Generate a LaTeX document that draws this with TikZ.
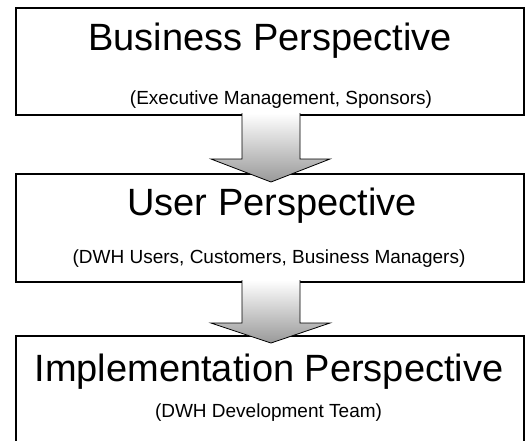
\documentclass[tikz,border=0pt]{standalone}
\usepackage{fontspec}
\setmainfont{Liberation Sans}
\newcommand\blkarrow[3]{%
  \shade[top color=white, bottom color=gray!80]
    (242,#1) -- (242,#2) -- (211,#2) -- (271,#3) -- (330,#2) -- (300,#2) -- (300,#1) -- cycle;
  \draw[arrowline] (242,#1) -- (242,#2) -- (211,#2) -- (271,#3) -- (330,#2) -- (300,#2) -- (300,#1);
}
\tikzset{
  box/.style={draw, line width=2pt, rectangle, minimum width=508pt, inner sep=0pt, fill=white},
  title/.style={anchor=base, inner sep=0pt, font=\fontsize{38}{40}\selectfont},
  sub/.style={anchor=base, inner sep=0pt, font=\fontsize{19}{21}\selectfont},
  arrowline/.style={line width=0.8pt, line join=miter}
}
\begin{document}
\begin{tikzpicture}[x=1pt, y=-1pt]
\useasboundingbox (0,0) rectangle (527,440);
\clip (0,0) rectangle (527,440);
\fill[white] (0,0) rectangle (527,440);
% boxes
\node[box, minimum height=107pt] (b1) at (269.5,61.5) {};
\node[box, minimum height=108pt] (b2) at (269.5,228) {};
\node[box, minimum height=114pt] (b3) at (269.5,393) {};
% texts
\node[title] (t1) at (270,50) {Business Perspective};
\node[sub] (s1) at (281,104) {(Executive Management, Sponsors)};
\node[title] (t2) at (272,215) {User Perspective};
\node[sub] (s2) at (269,263) {(DWH Users, Customers, Business Managers)};
\node[title] (t3) at (269,381) {Implementation Perspective};
\node[sub] (s3) at (268.5,417) {(DWH Development Team)};
% block arrows
\blkarrow{113}{159}{182}
\blkarrow{280}{323}{343}
\end{tikzpicture}
\end{document}
